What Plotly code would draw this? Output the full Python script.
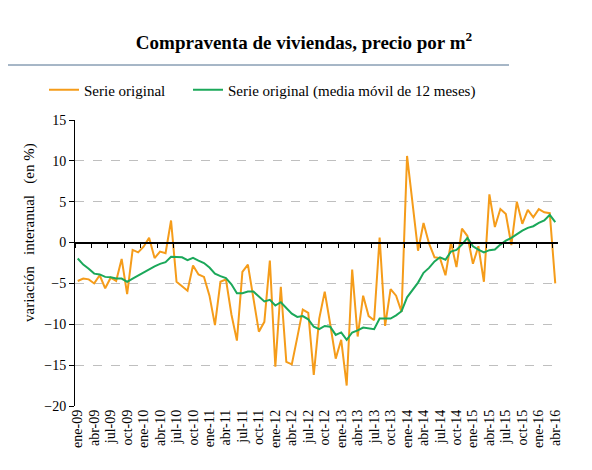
import plotly.graph_objects as go

# monthly labels ene-09 .. abr-16
meses = ["ene", "feb", "mar", "abr", "may", "jun", "jul", "ago", "sep", "oct", "nov", "dic"]
fechas = [f"{m}-{str(a)[2:]}" for a in range(2009, 2017) for m in meses][:88]

# tasa de variación interanual (%), serie original
serie_original = [
    -4.7, -4.4, -4.5, -5.0, -4.0, -5.6, -4.3, -4.7, -2.0, -6.3, -0.9, -1.2,
    -0.5, 0.6, -1.9, -1.1, -1.3, 2.7, -4.8, -5.4, -5.9, -2.8, -3.9, -4.2,
    -6.5, -10.1, -4.8, -4.5, -8.8, -12.0, -3.6, -2.7, -7.0, -10.9, -9.7, -2.2,
    -15.2, -5.4, -14.6, -14.9, -11.6, -8.2, -8.6, -16.2, -9.3, -6.0, -10.0, -14.2,
    -11.9, -17.5, -3.3, -11.5, -6.5, -9.0, -9.5, 0.6, -10.2, -5.7, -6.5, -8.5,
    10.6, 4.6, -1.0, 2.4, -0.1, -1.8, -1.9, -4.0, 0.0, -3.0, 1.7, 0.8,
    -2.6, -0.45, -4.8, 5.9, 1.9, 4.1, 3.5, -0.3, 5.0, 2.3, 4.0, 3.1,
    4.1, 3.7, 3.6, -5.0,
]

# media móvil de 12 meses
media_movil = [
    -1.95, -2.7, -3.2, -3.8, -3.9, -4.2, -4.25, -4.4, -4.4, -4.8, -4.4, -4.0,
    -3.6, -3.2, -2.9, -2.6, -2.4, -1.75, -1.75, -1.8, -2.15, -1.87, -2.2, -2.5,
    -3.05, -3.8, -4.1, -4.35, -5.1, -6.2, -6.2, -6.0, -6.0, -6.55, -7.2, -7.0,
    -7.7, -7.3, -8.0, -8.7, -9.1, -9.0, -9.4, -10.3, -10.6, -10.2, -10.3, -11.3,
    -11.0, -11.9, -11.0, -10.75, -10.4, -10.5, -10.6, -9.3, -9.3, -9.3, -8.9, -8.4,
    -6.7, -5.8, -4.9, -3.7, -3.1, -2.3, -1.8, -2.1, -1.1, -0.9, -0.25, 0.57,
    -0.45, -0.85, -1.2, -0.93, -0.85, -0.25, 0.24, 0.57, 1.06, 1.47, 1.8, 2.0,
    2.4, 2.7, 3.4, 2.5,
]

y_min, y_max = -20, 15
W, H = 592, 470
ml, mr, mt, mb = 67, 42, 112, 72
FONT = "Liberation Serif"


def px_x(px):
    return (px - ml) / (W - ml - mr)


def px_y(py):
    return (H - mb - py) / (H - mt - mb)


fig = go.Figure()

fig.add_trace(go.Scatter(
    x=fechas, y=serie_original, name="Serie original", legend="legend",
    mode="lines", line=dict(color="#F59C1A", width=2),
))
fig.add_trace(go.Scatter(
    x=fechas, y=media_movil, name="Serie original (media móvil de 12 meses)",
    legend="legend2", mode="lines", line=dict(color="#1BA85A", width=2),
))
# invisible trace so the axis at y=0 is drawn
fig.add_trace(go.Scatter(
    x=list(range(len(fechas))), y=media_movil, xaxis="x2",
    mode="lines", opacity=0, showlegend=False, hoverinfo="skip",
))

legend_style = dict(
    orientation="h", xanchor="left", yanchor="middle", y=px_y(82),
    font=dict(family=FONT, size=15, color="black"), bgcolor="rgba(0,0,0,0)",
)
tick_font = dict(family=FONT, size=14, color="black")

fig.update_layout(
    width=W, height=H,
    margin=dict(l=ml, r=mr, t=mt, b=mb),
    paper_bgcolor="white", plot_bgcolor="white",
    font=dict(family=FONT, size=14, color="black"),
    title=dict(
        text="<b>Compraventa de viviendas, precio por m<sup>2</sup></b>",
        x=0.5, xanchor="center", y=1 - 34 / H, yanchor="middle",
        font=dict(family=FONT, size=19, color="black"),
    ),
    showlegend=True,
    legend=dict(legend_style, x=px_x(36)),
    legend2=dict(legend_style, x=px_x(180)),
    xaxis=dict(
        type="category", range=[-0.5, len(fechas) - 0.5],
        tickvals=fechas[::3], tickangle=-90, ticks="", showline=False,
        showgrid=False, zeroline=False, tickfont=tick_font,
    ),
    xaxis2=dict(
        overlaying="x", anchor="free", position=(0 - y_min) / (y_max - y_min),
        range=[-0.5, len(fechas) - 0.5], tick0=-0.5, dtick=3,
        showticklabels=False, ticks="outside", ticklen=5, tickcolor="black",
        showline=True, linecolor="black", linewidth=1.5,
        showgrid=False, zeroline=False,
    ),
    yaxis=dict(
        range=[y_min, y_max], dtick=5, ticks="outside", ticklen=5,
        tickcolor="black", showline=True, linecolor="black", linewidth=1,
        showgrid=True, gridcolor="#BFBFBF", griddash="dash", gridwidth=1,
        zeroline=False, tickfont=tick_font,
    ),
    annotations=[dict(
        text="variación\u00a0\u00a0\u00a0interanual\u00a0\u00a0\u00a0(en %)",
        textangle=-90, xref="paper", yref="paper",
        x=px_x(21), y=px_y(225), xanchor="center", yanchor="middle",
        showarrow=False, font=dict(family=FONT, size=15, color="black"),
    )],
    shapes=[dict(
        type="line", xref="paper", yref="paper",
        x0=px_x(0), x1=px_x(501), y0=px_y(57), y1=px_y(57),
        line=dict(color="#4F6F8F", width=1),
    )],
)

fig.write_html("out.html")
